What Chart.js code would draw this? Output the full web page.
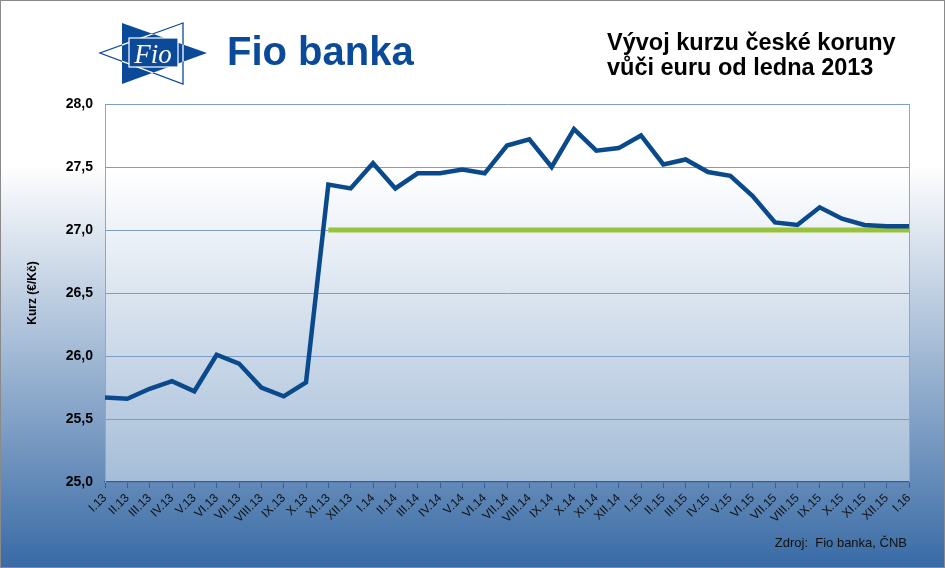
<!DOCTYPE html>
<html>
<head>
<meta charset="utf-8">
<script src="https://cdn.jsdelivr.net/npm/chart.js@4"></script>
<style>
  html, body { margin:0; padding:0; background:#fff; }
  #wrap { position:relative; width:945px; height:568px; overflow:hidden; font-family:"Liberation Sans", Arial, sans-serif; }
  #c { position:absolute; left:0; top:0; }
  #frame { position:absolute; left:0; top:0; width:943px; height:566px; border:1px solid #8a8a8a; pointer-events:none; }
  #title { position:absolute; left:607px; top:30px; font-size:23.5px; font-weight:bold; line-height:25px; color:#000; white-space:nowrap; }
  #source { position:absolute; right:38px; top:535px; font-size:13px; color:#111; white-space:nowrap; }
  #brand { position:absolute; left:227px; top:29px; font-size:40px; font-weight:bold; color:#0b4a99; white-space:nowrap; }
  #logo { position:absolute; left:0; top:0; }
</style>
</head>
<body>
<div id="wrap">
  <canvas id="c" width="945" height="568"></canvas>
  <svg id="logo" width="230" height="100" viewBox="0 0 230 100">
    <defs>
      <clipPath id="blueClip"><polygon points="122,23 207,53 122,84"/></clipPath>
    </defs>
    <polygon points="122,23 207,53 122,84" fill="#0b4a99"/>
    <polygon points="183,23 100,53 183,84" fill="none" stroke="#0b4a99" stroke-width="1.3"/>
    <polygon points="183,23 100,53 183,84" fill="none" stroke="#ffffff" stroke-width="1.3" clip-path="url(#blueClip)"/>
    <rect x="129" y="38" width="49" height="29" fill="#0b4a99" stroke="#ffffff" stroke-width="1.2"/>
    <text x="153" y="63" text-anchor="middle" font-family="'Liberation Serif','DejaVu Serif',serif" font-style="italic" font-size="27" fill="#ffffff">Fio</text>
  </svg>
  <div id="brand">Fio banka</div>
  <div id="title">Vývoj kurzu české koruny<br>vůči euru od ledna 2013</div>
  <div id="source">Zdroj:&nbsp; Fio banka, ČNB</div>
  <div id="frame"></div>
</div>
<script>
const months = ['I.13','II.13','III.13','IV.13','V.13','VI.13','VII.13','VIII.13','IX.13','X.13','XI.13','XII.13',
  'I.14','II.14','III.14','IV.14','V.14','VI.14','VII.14','VIII.14','IX.14','X.14','XI.14','XII.14',
  'I.15','II.15','III.15','IV.15','V.15','VI.15','VII.15','VIII.15','IX.15','X.15','XI.15','XII.15','I.16'];
const kurz = [25.67,25.66,25.74,25.80,25.72,26.01,25.94,25.75,25.68,25.79,
  27.36,27.33,27.53,27.33,27.45,27.45,27.48,27.45,27.67,27.72,27.50,27.80,27.63,27.65,
  27.75,27.52,27.56,27.46,27.43,27.27,27.06,27.04,27.18,27.09,27.04,27.03,27.03];
const cnbFloor = [null,null,null,null,null,null,null,null,null,null,
  27,27,27,27,27,27,27,27,27,27,27,27,27,27,27,27,27,27,27,27,27,27,27,27,27,27,27];
const yTickValues = [25.0,25.5,26.0,26.5,27.0,27.5,28.0];
const yTickLabels = ['25,0','25,5','26,0','26,5','27,0','27,5','28,0'];

const bgPlugin = {
  id:'bg',
  beforeDraw(chart){
    const ctx = chart.ctx, W = chart.width, H = chart.height, a = chart.chartArea;
    ctx.save();
    let g = ctx.createLinearGradient(0,0,0,H);
    g.addColorStop(0,'#ffffff');
    g.addColorStop(165/H,'#ffffff');
    g.addColorStop(1,'#386aa5');
    ctx.fillStyle = g;
    ctx.fillRect(0,0,W,H);
    let g2 = ctx.createLinearGradient(0,a.top,0,a.bottom);
    g2.addColorStop(0,'#ffffff');
    g2.addColorStop((170-a.top)/(a.bottom-a.top),'#ffffff');
    g2.addColorStop(1,'#a5bdd8');
    ctx.fillStyle = g2;
    ctx.fillRect(a.left,a.top,a.right-a.left,a.bottom-a.top);
    ctx.restore();
  },
  beforeDatasetsDraw(chart){
    const ctx = chart.ctx, a = chart.chartArea;
    ctx.save();
    ctx.strokeStyle = '#8ea8ca';
    ctx.lineWidth = 1;
    ctx.beginPath();
    ctx.moveTo(a.right+0.5,a.top);
    ctx.lineTo(a.right+0.5,a.bottom);
    ctx.stroke();
    ctx.restore();
  }
};

new Chart(document.getElementById('c'), {
  type:'line',
  data:{
    labels: months,
    datasets:[
      { label:'Kurz', data:kurz, borderColor:'#0a4a8c', borderWidth:4.5, pointRadius:0, tension:0, fill:false, order:0, borderJoinStyle:'miter' },
      { label:'ČNB', data:cnbFloor, borderColor:'#98c23c', borderWidth:5, pointRadius:0, tension:0, fill:false, order:1, borderCapStyle:'butt' }
    ]
  },
  options:{
    responsive:false,
    devicePixelRatio:1,
    animation:false,
    layout:{ padding:{ top:104, right:36, left:0, bottom:0 } },
    plugins:{ legend:{display:false}, tooltip:{enabled:false} },
    scales:{
      x:{
        offset:false,
        afterFit(s){ s.height = 86; },
        grid:{ display:true, drawOnChartArea:false, drawTicks:true, tickLength:6, color:'#2d5e9e', lineWidth:1 },
        border:{ display:true, color:'#2d5e9e', width:1.5 },
        ticks:{ autoSkip:false, maxRotation:45, minRotation:45, padding:3, color:'#111', font:{ family:"'Liberation Sans', Arial, sans-serif", size:12 } }
      },
      y:{
        min:25, max:28,
        afterFit(s){ s.width = 105; },
        afterBuildTicks(s){ s.ticks = yTickValues.map(v => ({value:v})); },
        grid:{ color:'#7f9cc2', lineWidth:1, drawTicks:false },
        border:{ display:true, color:'#8ea8ca', width:1 },
        ticks:{ padding:12, color:'#000', font:{ family:"'Liberation Sans', Arial, sans-serif", size:14, weight:'bold' },
          callback(v){ const i = yTickValues.indexOf(Math.round(v*10)/10); return i>=0 ? yTickLabels[i] : ''; } },
        title:{ display:true, text:'Kurz (€/Kč)', color:'#000', padding:{top:25,bottom:0},
          font:{ family:"'Liberation Sans', Arial, sans-serif", size:12, weight:'bold' } }
      }
    }
  },
  plugins:[bgPlugin]
});
</script>
</body>
</html>
